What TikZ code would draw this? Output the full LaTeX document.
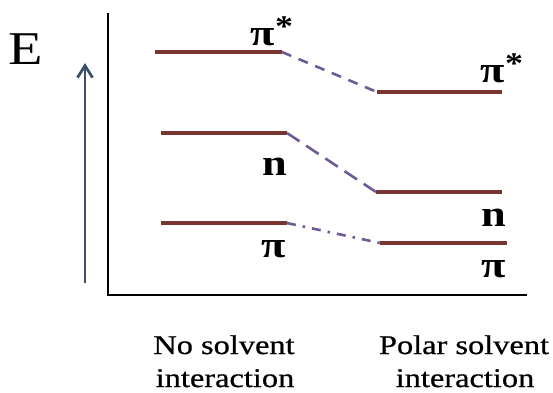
\documentclass[tikz,border=0pt]{standalone}
\usepackage{fontspec}
\setmainfont{Liberation Serif}
\newfontfamily\lblfont[FakeStretch=1.2]{Liberation Serif}
\newfontfamily\capfont[FakeStretch=1.2,FakeBold=0.7]{Liberation Serif}
\usetikzlibrary{arrows.meta}
\definecolor{levelc}{HTML}{7A3530}
\definecolor{linkc}{HTML}{6E5A94}
\definecolor{arrowc}{HTML}{3B4F6B}
\newcommand{\starsup}{\raisebox{9pt}{\fontsize{30}{30}\selectfont *}}
\tikzset{
  level/.style={draw=levelc, line width=4pt},
  link/.style={draw=linkc, line width=2.6pt},
  axisline/.style={draw=black, line width=2.6pt},
  orb/.style={font=\lblfont\bfseries\fontsize{37}{40}\selectfont, anchor=base, inner sep=0pt},
  caption/.style={font=\capfont\fontsize{27}{30}\selectfont, anchor=base, inner sep=0pt}
}
\begin{document}
\begin{tikzpicture}[x=1pt,y=-1pt]
\useasboundingbox (0,0) rectangle (553,392);
% axes
\coordinate (top) at (108,13);
\coordinate (orig) at (108,295);
\coordinate (xend) at (527,295);
\draw[axisline] (top) -- (orig) -- (xend);
% energy arrow
\coordinate (abot) at (85,283);
\coordinate (atop) at (85,63);
\draw[draw=arrowc, line width=1.5pt, -{Straight Barb[length=12pt,width=15pt,line width=2.8pt]}] (abot) -- (atop);
\node[font=\lblfont\fontsize{47}{50}\selectfont, anchor=base, inner sep=0pt] (E) at (26,64) {E};
% levels left
\coordinate (lps1) at (155,52);  \coordinate (lps2) at (282,52);
\coordinate (ln1) at (161,133);  \coordinate (ln2) at (287,133);
\coordinate (lp1) at (161,223);  \coordinate (lp2) at (287,223);
% levels right
\coordinate (rps1) at (377,92);  \coordinate (rps2) at (502,92);
\coordinate (rn1) at (376,192);  \coordinate (rn2) at (502,192);
\coordinate (rp1) at (380,243);  \coordinate (rp2) at (507,243);
\draw[level] (lps1) -- (lps2);
\draw[level] (ln1) -- (ln2);
\draw[level] (lp1) -- (lp2);
\draw[level] (rps1) -- (rps2);
\draw[level] (rn1) -- (rn2);
\draw[level] (rp1) -- (rp2);
% connectors
\draw[link, dash pattern=on 10pt off 8pt] (lps2) -- (rps1);
\draw[link, dash pattern=on 15pt off 8pt] (ln2) -- (rn1);
\draw[link, dash pattern=on 9pt off 7pt on 2.5pt off 7pt] (lp2) -- (rp1);
% labels
\node[orb] (tps) at (272,45) {π\starsup};
\node[orb] (tn) at (275,175) {n};
\node[orb] (tp) at (274,257) {π};
\node[orb] (tpsr) at (502,82) {π\starsup};
\node[orb] (tnr) at (494,226) {n};
\node[orb] (tpr) at (494,277) {π};
\node[caption] (c1a) at (224,354) {No solvent};
\node[caption] (c1b) at (225,387) {interaction};
\node[caption] (c2a) at (464,354) {Polar solvent};
\node[caption] (c2b) at (465,387) {interaction};
\end{tikzpicture}
\end{document}
